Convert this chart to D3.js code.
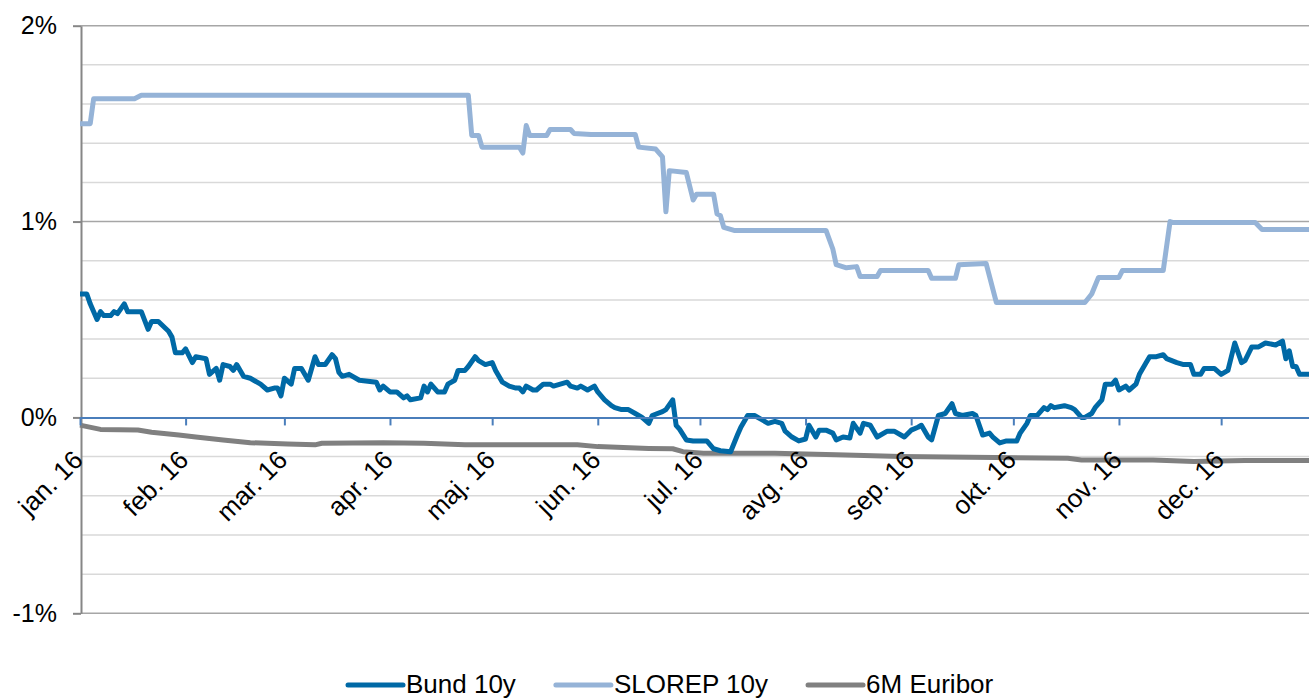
<!DOCTYPE html>
<html>
<head>
<meta charset="utf-8">
<script src="https://cdnjs.cloudflare.com/ajax/libs/d3/7.8.5/d3.min.js"></script>
<style>
  body { margin: 0; background: #fff; }
  text { font-family: "Liberation Sans", Arial, sans-serif; fill: #000; }
</style>
</head>
<body>
<script>
"use strict";

// month labels on the x axis
var monthLabels = ["jan. 16", "feb. 16", "mar. 16", "apr. 16", "maj. 16", "jun. 16",
                   "jul. 16", "avg. 16", "sep. 16", "okt. 16", "nov. 16", "dec. 16"];

var yTicks = [-1, 0, 1, 2];

var seriesNames = ["Bund 10y", "SLOREP 10y", "6M Euribor"];
var seriesColors = ["#0069a6", "#95b3d7", "#808080"];

// Bund 10y yield, %
var bund = [
  ["2016-01-01", 0.63], ["2016-01-03", 0.63], ["2016-01-04", 0.58], ["2016-01-06", 0.50],
  ["2016-01-07", 0.54], ["2016-01-08", 0.52], ["2016-01-10", 0.52], ["2016-01-11", 0.54],
  ["2016-01-12", 0.53], ["2016-01-14", 0.58], ["2016-01-15", 0.54], ["2016-01-19", 0.54],
  ["2016-01-21", 0.45], ["2016-01-22", 0.49], ["2016-01-24", 0.49], ["2016-01-27", 0.44],
  ["2016-01-28", 0.41], ["2016-01-29", 0.33], ["2016-01-31", 0.33], ["2016-02-01", 0.35],
  ["2016-02-03", 0.28], ["2016-02-04", 0.31], ["2016-02-07", 0.30], ["2016-02-08", 0.22],
  ["2016-02-10", 0.25], ["2016-02-11", 0.19], ["2016-02-12", 0.27], ["2016-02-14", 0.26],
  ["2016-02-15", 0.24], ["2016-02-16", 0.27], ["2016-02-18", 0.21], ["2016-02-20", 0.20],
  ["2016-02-21", 0.19], ["2016-02-23", 0.17], ["2016-02-25", 0.14], ["2016-02-27", 0.15],
  ["2016-02-28", 0.15], ["2016-02-29", 0.11], ["2016-03-01", 0.20], ["2016-03-03", 0.17],
  ["2016-03-04", 0.25], ["2016-03-06", 0.25], ["2016-03-08", 0.19], ["2016-03-10", 0.31],
  ["2016-03-11", 0.27], ["2016-03-13", 0.27], ["2016-03-15", 0.32], ["2016-03-16", 0.30],
  ["2016-03-17", 0.23], ["2016-03-18", 0.21], ["2016-03-20", 0.22], ["2016-03-23", 0.19],
  ["2016-03-28", 0.18], ["2016-03-29", 0.14], ["2016-03-30", 0.16], ["2016-04-01", 0.13],
  ["2016-04-03", 0.13], ["2016-04-05", 0.10], ["2016-04-06", 0.11], ["2016-04-07", 0.09],
  ["2016-04-10", 0.10], ["2016-04-11", 0.16], ["2016-04-12", 0.13], ["2016-04-13", 0.17],
  ["2016-04-15", 0.13], ["2016-04-17", 0.13], ["2016-04-18", 0.17], ["2016-04-20", 0.19],
  ["2016-04-21", 0.24], ["2016-04-23", 0.24], ["2016-04-24", 0.26], ["2016-04-26", 0.31],
  ["2016-04-27", 0.29], ["2016-04-29", 0.27], ["2016-05-01", 0.28], ["2016-05-02", 0.24],
  ["2016-05-04", 0.18], ["2016-05-06", 0.16], ["2016-05-08", 0.15], ["2016-05-09", 0.15],
  ["2016-05-10", 0.13], ["2016-05-11", 0.16], ["2016-05-13", 0.14], ["2016-05-14", 0.14],
  ["2016-05-16", 0.17], ["2016-05-18", 0.17], ["2016-05-19", 0.16], ["2016-05-21", 0.17],
  ["2016-05-23", 0.18], ["2016-05-24", 0.16], ["2016-05-26", 0.15], ["2016-05-27", 0.16],
  ["2016-05-29", 0.14], ["2016-05-31", 0.16], ["2016-06-01", 0.13], ["2016-06-03", 0.09],
  ["2016-06-05", 0.06], ["2016-06-06", 0.05], ["2016-06-08", 0.04], ["2016-06-10", 0.04],
  ["2016-06-12", 0.02], ["2016-06-14", 0.00], ["2016-06-16", -0.03], ["2016-06-17", 0.01],
  ["2016-06-20", 0.03], ["2016-06-21", 0.04], ["2016-06-23", 0.09], ["2016-06-24", -0.04],
  ["2016-06-25", -0.06], ["2016-06-27", -0.115], ["2016-06-29", -0.12], ["2016-07-03", -0.12],
  ["2016-07-05", -0.16], ["2016-07-07", -0.17], ["2016-07-10", -0.175], ["2016-07-12", -0.09],
  ["2016-07-13", -0.05], ["2016-07-15", 0.01], ["2016-07-17", 0.01], ["2016-07-19", -0.01],
  ["2016-07-21", -0.03], ["2016-07-23", -0.02], ["2016-07-25", -0.03], ["2016-07-26", -0.07],
  ["2016-07-28", -0.10], ["2016-07-30", -0.12], ["2016-08-01", -0.11], ["2016-08-02", -0.04],
  ["2016-08-04", -0.10], ["2016-08-05", -0.065], ["2016-08-07", -0.065], ["2016-08-09", -0.08],
  ["2016-08-10", -0.115], ["2016-08-12", -0.10], ["2016-08-14", -0.105], ["2016-08-15", -0.03],
  ["2016-08-17", -0.08], ["2016-08-18", -0.03], ["2016-08-20", -0.04], ["2016-08-22", -0.10],
  ["2016-08-25", -0.07], ["2016-08-27", -0.07], ["2016-08-30", -0.10], ["2016-09-01", -0.065],
  ["2016-09-03", -0.05], ["2016-09-04", -0.04], ["2016-09-06", -0.10], ["2016-09-07", -0.115],
  ["2016-09-09", 0.01], ["2016-09-11", 0.02], ["2016-09-13", 0.07], ["2016-09-14", 0.02],
  ["2016-09-16", 0.01], ["2016-09-19", 0.02], ["2016-09-20", 0.01], ["2016-09-22", -0.09],
  ["2016-09-24", -0.08], ["2016-09-25", -0.10], ["2016-09-27", -0.13], ["2016-09-29", -0.12],
  ["2016-10-02", -0.12], ["2016-10-03", -0.08], ["2016-10-05", -0.03], ["2016-10-06", 0.01],
  ["2016-10-08", 0.01], ["2016-10-10", 0.05], ["2016-10-11", 0.04], ["2016-10-12", 0.06],
  ["2016-10-13", 0.05], ["2016-10-16", 0.06], ["2016-10-18", 0.05], ["2016-10-19", 0.04],
  ["2016-10-21", 0.00], ["2016-10-22", 0.00], ["2016-10-24", 0.02], ["2016-10-25", 0.05],
  ["2016-10-27", 0.09], ["2016-10-28", 0.17], ["2016-10-30", 0.17], ["2016-10-31", 0.19],
  ["2016-11-01", 0.14], ["2016-11-03", 0.16], ["2016-11-04", 0.14], ["2016-11-06", 0.17],
  ["2016-11-07", 0.22], ["2016-11-09", 0.28], ["2016-11-10", 0.31], ["2016-11-12", 0.31],
  ["2016-11-14", 0.32], ["2016-11-15", 0.30], ["2016-11-18", 0.28], ["2016-11-20", 0.27],
  ["2016-11-22", 0.27], ["2016-11-23", 0.22], ["2016-11-25", 0.22], ["2016-11-26", 0.25],
  ["2016-11-29", 0.25], ["2016-12-01", 0.22], ["2016-12-03", 0.24], ["2016-12-05", 0.38],
  ["2016-12-07", 0.28], ["2016-12-08", 0.29], ["2016-12-10", 0.36], ["2016-12-12", 0.36],
  ["2016-12-14", 0.38], ["2016-12-17", 0.37], ["2016-12-19", 0.39], ["2016-12-20", 0.30],
  ["2016-12-21", 0.34], ["2016-12-22", 0.26], ["2016-12-23", 0.26], ["2016-12-24", 0.22],
  ["2016-12-27", 0.22]
];

// SLOREP 10y yield, %
var slorep = [
  ["2016-01-01", 1.50], ["2016-01-04", 1.50], ["2016-01-05", 1.627], ["2016-01-17", 1.627],
  ["2016-01-19", 1.645], ["2016-04-24", 1.645], ["2016-04-25", 1.44], ["2016-04-27", 1.44],
  ["2016-04-28", 1.38], ["2016-05-09", 1.38], ["2016-05-10", 1.35], ["2016-05-11", 1.49],
  ["2016-05-12", 1.44], ["2016-05-17", 1.44], ["2016-05-18", 1.47], ["2016-05-24", 1.47],
  ["2016-05-25", 1.45], ["2016-05-30", 1.445], ["2016-06-12", 1.445], ["2016-06-13", 1.38],
  ["2016-06-18", 1.37], ["2016-06-20", 1.33], ["2016-06-21", 1.05], ["2016-06-22", 1.26],
  ["2016-06-27", 1.25], ["2016-06-29", 1.11], ["2016-06-30", 1.14], ["2016-07-05", 1.14],
  ["2016-07-06", 1.04], ["2016-07-07", 1.03], ["2016-07-08", 0.97], ["2016-07-11", 0.955],
  ["2016-08-07", 0.955], ["2016-08-09", 0.86], ["2016-08-10", 0.78], ["2016-08-13", 0.764],
  ["2016-08-16", 0.77], ["2016-08-17", 0.72], ["2016-08-22", 0.72], ["2016-08-23", 0.75],
  ["2016-09-06", 0.75], ["2016-09-07", 0.71], ["2016-09-14", 0.71], ["2016-09-15", 0.78],
  ["2016-09-23", 0.786], ["2016-09-26", 0.587], ["2016-10-22", 0.587], ["2016-10-24", 0.63],
  ["2016-10-26", 0.715], ["2016-11-01", 0.715], ["2016-11-02", 0.75], ["2016-11-14", 0.75],
  ["2016-11-16", 1.0], ["2016-11-17", 0.995], ["2016-12-11", 0.995], ["2016-12-13", 0.96],
  ["2016-12-27", 0.96]
];

// 6M Euribor, %
var euribor = [
  ["2016-01-01", -0.039], ["2016-01-07", -0.061], ["2016-01-18", -0.064], ["2016-01-22", -0.076],
  ["2016-01-30", -0.09], ["2016-02-04", -0.10], ["2016-02-12", -0.115], ["2016-02-20", -0.129],
  ["2016-03-02", -0.136], ["2016-03-10", -0.14], ["2016-03-12", -0.132], ["2016-03-30", -0.129],
  ["2016-04-11", -0.132], ["2016-04-23", -0.14], ["2016-05-26", -0.14], ["2016-06-01", -0.149],
  ["2016-06-16", -0.158], ["2016-06-23", -0.16], ["2016-06-26", -0.175], ["2016-07-02", -0.183],
  ["2016-07-23", -0.183], ["2016-08-10", -0.19], ["2016-08-29", -0.20], ["2016-10-17", -0.208],
  ["2016-10-21", -0.217], ["2016-11-11", -0.217], ["2016-11-23", -0.225], ["2016-12-08", -0.22],
  ["2016-12-27", -0.22]
];

var width = 1309;
var height = 699;
var parseDate = d3.timeParse("%Y-%m-%d");

var svg = d3.select("body").append("svg")
    .attr("width", width)
    .attr("height", height);

var x = d3.scaleTime()
    .domain([new Date(2016, 0, 1), new Date(2016, 11, 26, 19)])
    .range([80, 1309]);

var y = d3.scaleLinear()
    .domain([-1, 2])
    .range([613.3, 25.7]);

// gridlines every 0.2%, darker at whole percents
var gridVals = d3.range(-5, 11).map(function (i) { return i / 5; });
svg.append("g").selectAll("line")
    .data(gridVals.filter(function (d) { return Math.round(d * 5) % 5 !== 0; }))
    .enter().append("line")
      .attr("x1", 81).attr("x2", width)
      .attr("y1", function (d) { return y(d); })
      .attr("y2", function (d) { return y(d); })
      .attr("stroke", "#d9d9d9")
      .attr("stroke-width", 1.5);

svg.append("g").selectAll("line")
    .data(yTicks.filter(function (d) { return d !== 0; }))
    .enter().append("line")
      .attr("x1", 81).attr("x2", width)
      .attr("y1", function (d) { return y(d); })
      .attr("y2", function (d) { return y(d); })
      .attr("stroke", "#a6a6a6")
      .attr("stroke-width", 1.5);

// y axis
var yAxis = svg.append("g")
    .attr("transform", "translate(81,0)")
    .call(d3.axisLeft(y).tickValues(yTicks).tickSize(8).tickSizeOuter(0).tickPadding(16)
        .tickFormat(function (d) { return d + "%"; }));
yAxis.select(".domain").attr("stroke", "#868686").attr("stroke-width", 2);
yAxis.selectAll(".tick line").attr("stroke", "#868686").attr("stroke-width", 2);
yAxis.selectAll("text")
    .style("font-size", "25px")
    .attr("fill", "#000");

// series lines
var line = d3.line()
    .x(function (d) { return x(parseDate(d[0])); })
    .y(function (d) { return y(d[1]); });

var allSeries = [euribor, slorep, bund];
var drawOrder = [2, 1, 0];
allSeries.forEach(function (s, i) {
    svg.append("path")
        .datum(s)
        .attr("d", line)
        .attr("fill", "none")
        .attr("stroke", seriesColors[drawOrder[i]])
        .attr("stroke-width", 5)
        .attr("stroke-linejoin", "round")
        .attr("stroke-linecap", "butt");
});

// x axis on the zero line
var months = d3.timeMonth.range(new Date(2016, 0, 1), new Date(2016, 11, 2));
var xAxis = svg.append("g")
    .attr("transform", "translate(0," + y(0) + ")")
    .call(d3.axisBottom(x).tickValues(months).tickSize(8).tickSizeOuter(0)
        .tickFormat(function (d, i) { return monthLabels[i]; }));
xAxis.select(".domain").attr("stroke", "#4a7ebb").attr("stroke-width", 2);
xAxis.selectAll(".tick line").attr("stroke", "#4a7ebb").attr("stroke-width", 2);
xAxis.selectAll("text")
    .attr("x", 0).attr("y", 0).attr("dy", 0)
    .attr("text-anchor", "end")
    .attr("transform", "translate(4,44) rotate(-45)")
    .attr("fill", "#000")
    .style("font-size", "26px");

// legend
var legend = svg.append("g");
var lx = 348;
seriesNames.forEach(function (name, i) {
    legend.append("line")
        .attr("x1", lx).attr("x2", lx + 55)
        .attr("y1", 685).attr("y2", 685)
        .attr("stroke", seriesColors[i])
        .attr("stroke-width", 5)
        .attr("stroke-linecap", "round");
    var t = legend.append("text")
        .attr("x", lx + 58)
        .attr("y", 693)
        .style("font-size", "26px")
        .text(name);
    lx += 58 + t.node().getComputedTextLength() + 40;
});
</script>
</body>
</html>
